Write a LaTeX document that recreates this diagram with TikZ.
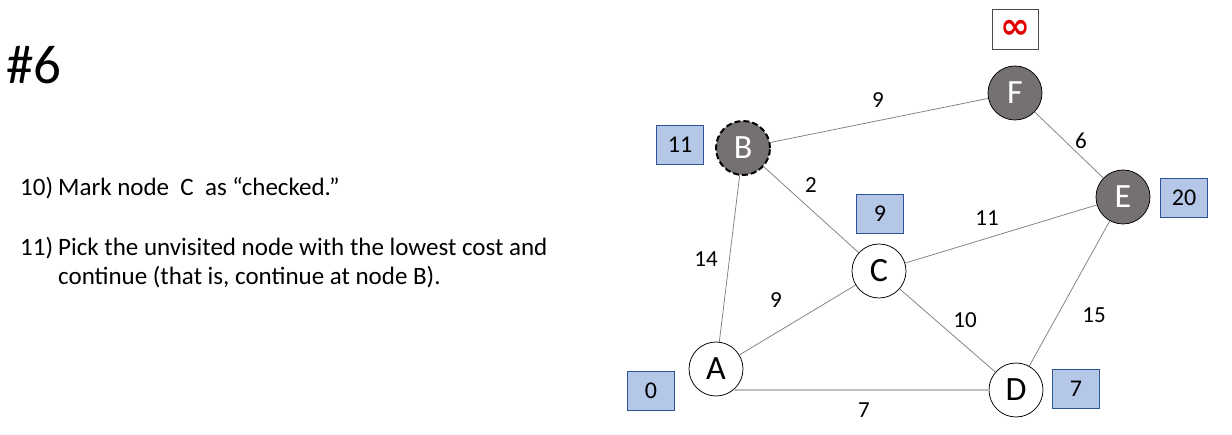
\documentclass[tikz,border=0pt]{standalone}
\usepackage{fontspec}
\setmainfont{Carlito}
\newfontfamily\dejavu{DejaVu Sans}
\definecolor{nodegray}{HTML}{767171}
\definecolor{boxfill}{HTML}{B4C7E7}
\definecolor{boxline}{HTML}{2F5597}
\definecolor{edgegray}{HTML}{7F7F7F}
\definecolor{infred}{HTML}{E00000}
\tikzset{
  vnode/.style={circle, draw=black, line width=0.75pt, minimum size=54pt, inner sep=0pt, font=\fontsize{34}{38}\selectfont},
  whitenode/.style={vnode, fill=white, text=black},
  darknode/.style={vnode, fill=nodegray, text=white},
  costbox/.style={draw=boxline, fill=boxfill, line width=0.75pt, minimum width=47pt, minimum height=39pt, inner sep=0pt, font=\fontsize{24}{28}\selectfont},
  infbox/.style={draw=black!70, fill=white, line width=0.75pt, minimum width=46pt, minimum height=40pt, inner sep=0pt},
  edge/.style={draw=edgegray, line width=0.75pt},
  wedge/.style={draw=black!25, line width=1.6pt},
  elabel/.style={font=\fontsize{23}{26}\selectfont, inner sep=0pt},
  bodytext/.style={font=\fontsize{25}{29}\selectfont, anchor=base west, inner sep=0pt}
}
\begin{document}
\begin{tikzpicture}[x=1pt,y=-1pt]
\useasboundingbox (0,0) rectangle (1232,435);
% text
\node[font=\fontsize{55}{60}\selectfont, anchor=base west, inner sep=0pt] (title) at (6,84) {\#6};
\node[bodytext] (n10) at (20,196) {10)};
\node[bodytext] (t10) at (58,196) {Mark node~~C~~as “checked.”};
\node[bodytext] (n11) at (20,256) {11)};
\node[bodytext] (t11a) at (58,256) {Pick the unvisited node with the lowest cost and};
\node[bodytext] (t11b) at (58,285) {continue (that is, continue at node B).};
% graph nodes
\node[whitenode] (A) at (716,369) {A};
\node[darknode, draw=none] (B) at (743,148) {B};
\draw[black, line width=2pt, dash pattern=on 6pt off 3pt] (B) circle (27pt);
\node[whitenode] (C) at (879,271) {C};
\node[whitenode] (D) at (1016,390) {D};
\node[darknode] (E) at (1123,197) {E};
\node[darknode] (F) at (1015,93) {F};
% edges
\draw[edge] (B) -- (F);
\draw[edge] (F) -- (E);
\draw[edge] (B) -- (C);
\draw[edge] (B) -- (A);
\draw[edge] (C) -- (E);
\draw[edge] (A) -- (C);
\draw[edge] (C) -- (D);
\draw[edge] (D) -- (E);
\draw[wedge] (A.-50) -- (D.west);
% edge labels
\node[elabel] (lBF) at (878,100) {9};
\node[elabel] (lBC) at (811,185) {2};
\node[elabel] (lAB) at (706,259) {14};
\node[elabel] (lAC) at (776,300) {9};
\node[elabel] (lCE) at (987,218) {11};
\node[elabel] (lCD) at (965,320) {10};
\node[elabel] (lDE) at (1094,315) {15};
\node[elabel] (lFE) at (1081,141) {6};
\node[elabel] (lAD) at (864,410) {7};
% cost boxes
\node[costbox] (cB) at (680,145) {11};
\node[costbox] (cC) at (880,214) {9};
\node[costbox] (cE) at (1184,198) {20};
\node[costbox] (cA) at (651,391) {0};
\node[costbox] (cD) at (1076,389) {7};
\node[infbox, text=infred, font=\dejavu\bfseries\fontsize{36}{36}\selectfont] (cF) at (1015,29) {∞};
\end{tikzpicture}
\end{document}
